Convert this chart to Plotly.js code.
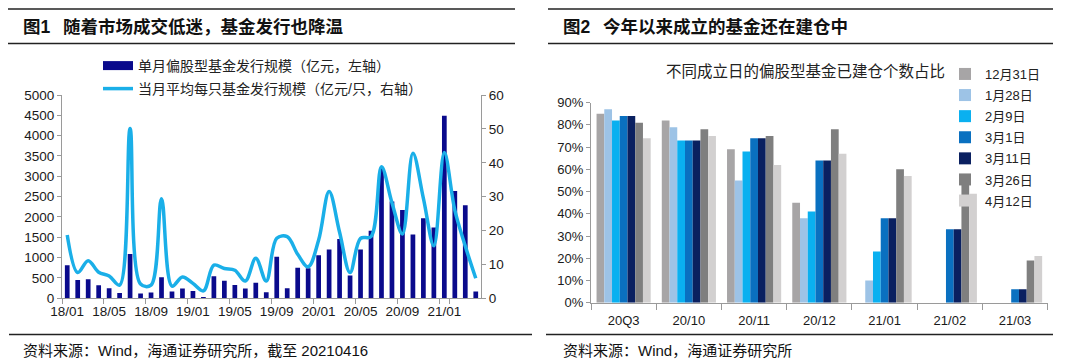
<!DOCTYPE html>
<html>
<head>
<meta charset="utf-8">
<script src="https://cdn.plot.ly/plotly-3.0.1.min.js"></script>
<style>html,body{margin:0;padding:0;background:#fff;}#chart{width:1080px;height:361px;}</style>
</head>
<body>
<div id="chart"></div>
<script>
// ---- Figure 1 data ----
const months = ["18/01","18/02","18/03","18/04","18/05","18/06","18/07","18/08","18/09","18/10","18/11","18/12",
  "19/01","19/02","19/03","19/04","19/05","19/06","19/07","19/08","19/09","19/10","19/11","19/12",
  "20/01","20/02","20/03","20/04","20/05","20/06","20/07","20/08","20/09","20/10","20/11","20/12",
  "21/01","21/02","21/03","21/04"];
const monthTicks = ["18/01","18/05","18/09","19/01","19/05","19/09","20/01","20/05","20/09","21/01"];
const issueSize = [810,450,470,320,250,130,1090,115,140,520,170,240,
  180,30,540,430,330,240,380,150,1020,250,750,740,
  1060,1200,1460,560,1200,1660,3200,2380,2170,1570,1970,1740,
  4490,2640,2290,170];
const avgSize = [18.7,7.6,11.1,7.7,6.6,3.9,50.1,4.2,3.9,29.4,3.6,6.3,
  4.4,2.2,9.8,8.8,8.3,5.1,11.8,5.1,17.7,18.2,13.0,9.3,
  17.2,31.5,19.5,7.6,17.7,18.2,38.8,28.2,19.0,42.8,29.5,15.5,
  43.0,26.0,15.4,5.9];
const barName = "单月偏股型基金发行规模（亿元，左轴）";
const lineName = "当月平均每只基金发行规模（亿元/只，右轴）";

// ---- Figure 2 data ----
const groups = ["20Q3","20/10","20/11","20/12","21/01","21/02","21/03"];
const seriesNames = ["12月31日","1月28日","2月9日","3月1日","3月11日","3月26日","4月12日"];
const s1231 = [0.85,0.82,0.69,0.45,0,0,0];
const s0128 = [0.87,0.79,0.55,0.38,0.10,0,0];
const s0209 = [0.82,0.73,0.68,0.41,0.23,0,0];
const s0301 = [0.84,0.73,0.74,0.64,0.38,0.33,0.06];
const s0311 = [0.84,0.73,0.74,0.64,0.38,0.33,0.06];
const s0326 = [0.81,0.78,0.75,0.78,0.60,0.56,0.19];
const s0412 = [0.74,0.75,0.62,0.67,0.57,0.49,0.21];
const seriesValues = [s1231,s0128,s0209,s0301,s0311,s0326,s0412];
const seriesColors = ["#A7A5A6","#9DC3E6","#0AB0F0","#0A70C0","#0A2060","#7F7F7F","#D2D0D0"];

const NAVY = "#0A0A8C", CYAN = "#1AAFE8";
const W = 1080, H = 361;
const px = v => v / W, py = v => 1 - v / H;
const latin = "Liberation Sans, Arial, Noto Sans CJK SC, sans-serif";
const cjk = "Liberation Sans, Noto Sans CJK SC, sans-serif";

const traces = [];
traces.push({type:"bar", x:months, y:issueSize, marker:{color:NAVY}, width:0.45,
  xaxis:"x", yaxis:"y", showlegend:false, hoverinfo:"x+y"});
traces.push({type:"scatter", mode:"lines", x:[null], y:[null], name:barName,
  line:{color:NAVY, width:9}, xaxis:"x", yaxis:"y", legend:"legend", hoverinfo:"skip"});
traces.push({type:"scatter", mode:"lines", x:months, y:avgSize, name:lineName,
  line:{color:CYAN, width:3.5, shape:"spline", smoothing:1}, xaxis:"x", yaxis:"y2", legend:"legend2"});
seriesNames.forEach((n,i)=>{
  traces.push({type:"bar", x:groups, y:seriesValues[i], name:n, marker:{color:seriesColors[i]},
    xaxis:"x2", yaxis:"y3", legend:"legend3", legendgroup:"g"+i});
});

const axisCommon = {showgrid:false, zeroline:false, showline:true, linecolor:"#9A9A9A", linewidth:1,
  ticks:"outside", tickcolor:"#9A9A9A", tickfont:{family:latin, size:13.5, color:"#1a1a1a"}};

const layout = {
  width:W, height:H, margin:{l:0,r:0,t:0,b:0}, paper_bgcolor:"#fff", plot_bgcolor:"rgba(0,0,0,0)",
  barmode:"group", bargap:0.17, bargroupgap:0, showlegend:true,
  xaxis:Object.assign({}, axisCommon, {type:"category", domain:[px(62), px(481)], anchor:"y",
    range:[-0.5, 39.5], tickmode:"array", tickvals:monthTicks, ticktext:monthTicks,
    tickson:"boundaries", ticklen:5, tickangle:0}),
  yaxis:Object.assign({}, axisCommon, {domain:[py(298.3), py(95)], anchor:"x", range:[0,5000],
    dtick:500, ticklen:4}),
  yaxis2:Object.assign({}, axisCommon, {overlaying:"y", side:"right", anchor:"x", range:[0,60],
    dtick:10, ticklen:4}),
  xaxis2:Object.assign({}, axisCommon, {type:"category", domain:[px(591), px(1047.7)], anchor:"y3",
    range:[-0.5, 6.5], tickson:"boundaries", ticklen:6, tickangle:0, tickfont:{family:latin, size:13, color:"#1a1a1a"},
    ticklabelstandoff:6}),
  yaxis3:Object.assign({}, axisCommon, {domain:[py(302.7), py(102.7)], anchor:"x2", range:[0,0.9],
    dtick:0.1, tickformat:".0%", ticklen:4, tickfont:{family:latin, size:13, color:"#1a1a1a"}}),
  legend:{x:px(98), y:py(66), xanchor:"left", yanchor:"middle", bgcolor:"rgba(0,0,0,0)",
    font:{family:cjk, size:14, color:"#222"}},
  legend2:{x:px(98), y:py(89), xanchor:"left", yanchor:"middle", bgcolor:"rgba(0,0,0,0)",
    font:{family:cjk, size:14, color:"#222"}},
  legend3:{x:px(945), y:py(59), xanchor:"left", yanchor:"top", bgcolor:"rgba(0,0,0,0)",
    tracegroupgap:1.2, font:{family:cjk, size:13, color:"#222"}},
  shapes:[
    {type:"line", xref:"paper", yref:"paper", x0:px(8), x1:px(515), y0:py(9), y1:py(9), line:{color:"#222", width:1.3}},
    {type:"line", xref:"paper", yref:"paper", x0:px(8), x1:px(515), y0:py(43.5), y1:py(43.5), line:{color:"#222", width:1.3}},
    {type:"line", xref:"paper", yref:"paper", x0:px(548), x1:px(1053), y0:py(9), y1:py(9), line:{color:"#222", width:1.3}},
    {type:"line", xref:"paper", yref:"paper", x0:px(548), x1:px(1053), y0:py(43.5), y1:py(43.5), line:{color:"#222", width:1.3}},
    {type:"line", xref:"paper", yref:"paper", x0:px(9), x1:px(532), y0:py(334.5), y1:py(334.5), line:{color:"#222", width:1.3}},
    {type:"line", xref:"paper", yref:"paper", x0:px(546), x1:px(1053), y0:py(334.5), y1:py(334.5), line:{color:"#222", width:1.3}}
  ],
  annotations:[
    {text:"<b>图1</b>", x:px(21), y:py(27), xref:"paper", yref:"paper", xanchor:"left", yanchor:"middle", showarrow:false, font:{family:cjk, size:17.5, color:"#111"}},
    {text:"<b>随着市场成交低迷，基金发行也降温</b>", x:px(61), y:py(27), xref:"paper", yref:"paper", xanchor:"left", yanchor:"middle", showarrow:false, font:{family:cjk, size:17.5, color:"#111"}},
    {text:"<b>图2</b>", x:px(561), y:py(27), xref:"paper", yref:"paper", xanchor:"left", yanchor:"middle", showarrow:false, font:{family:cjk, size:17.5, color:"#111"}},
    {text:"<b>今年以来成立的基金还在建仓中</b>", x:px(601), y:py(27), xref:"paper", yref:"paper", xanchor:"left", yanchor:"middle", showarrow:false, font:{family:cjk, size:17.5, color:"#111"}},
    {text:"资料来源：Wind，海通证券研究所，截至 20210416", x:px(21), y:py(350), xref:"paper", yref:"paper", xanchor:"left", yanchor:"middle", showarrow:false, font:{family:cjk, size:15, color:"#111"}},
    {text:"资料来源：Wind，海通证券研究所", x:px(561), y:py(350), xref:"paper", yref:"paper", xanchor:"left", yanchor:"middle", showarrow:false, font:{family:cjk, size:15, color:"#111"}},
    {text:"不同成立日的偏股型基金已建仓个数占比", x:px(805), y:py(71), xref:"paper", yref:"paper", xanchor:"center", yanchor:"middle", showarrow:false, font:{family:cjk, size:15.5, color:"#222"}}
  ]
};

Plotly.newPlot("chart", traces, layout, {displayModeBar:false, staticPlot:true});
</script>
</body>
</html>
